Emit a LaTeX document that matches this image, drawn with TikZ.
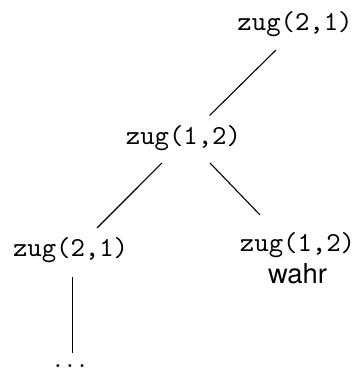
\documentclass[tikz,border=0pt]{standalone}
\usepackage{fontspec}
\newfontfamily\helv{TeX Gyre Heros}
\usetikzlibrary{positioning,calc}
\tikzset{
        zug/.style={font=\ttfamily},
        note/.style={font=\helv},
    }

\begin{document}
\begin{tikzpicture}[x = 1cm]
                \useasboundingbox (0,0) rectangle (4.593,4.747);
                % the moves
                \node[zug] (z0) at (3.785,4.439) {zug(2,1)};
                \node[zug] (z1) at (2.354,2.970) {zug(1,2)};
                \node[zug] (z2) at (0.905,1.533) {zug(2,1)};
                \node[zug] (z3) at (3.817,1.604) {zug(1,2)};
                \node[note] (w3) at (3.817,1.232) {wahr};
                \node (z4) at (0.898,0.055) {$\ldots$};
                % edges, ends set off from the centres
                \draw ($(z0)+(-0.244,-0.334)$) -- ($(z1)+(0.334,0.295)$);
                \draw ($(z1)+(-0.276,-0.314)$) -- ($(z2)+(0.340,0.289)$);
                \draw ($(z1)+(0.340,-0.314)$) -- ($(z3)+(-0.481,0.385)$);
                \draw ($(z2)+(0.028,-0.340)$) -- ($(z4)+(0.035,0.163)$);
            \end{tikzpicture}
\end{document}
